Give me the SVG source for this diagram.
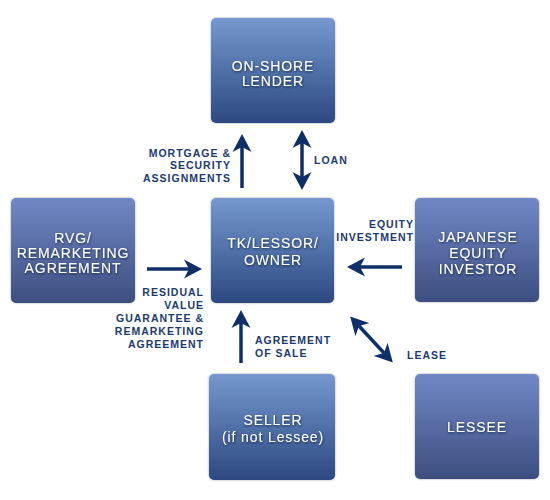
<svg xmlns="http://www.w3.org/2000/svg" width="550" height="500" viewBox="0 0 550 500">
<defs>
<linearGradient id="gBlue" x1="0" y1="0" x2="0" y2="1">
<stop offset="0" stop-color="#7598cf"/>
<stop offset="1" stop-color="#2c4981"/>
</linearGradient>
<linearGradient id="gPurple" x1="0" y1="0" x2="0" y2="1">
<stop offset="0" stop-color="#7188c6"/>
<stop offset="1" stop-color="#3d4e7f"/>
</linearGradient>
<filter id="boxShadow" x="-10%" y="-10%" width="120%" height="120%">
<feDropShadow dx="0" dy="0" stdDeviation="1.2" flood-color="#000" flood-opacity="0.35"/>
</filter>
<filter id="txtShadow" x="-10%" y="-30%" width="120%" height="160%">
<feDropShadow dx="0.5" dy="1" stdDeviation="0.8" flood-color="#0a1a3a" flood-opacity="0.9"/>
</filter>
<marker id="ah" viewBox="0 0 18 20" refX="5" refY="10" markerWidth="18" markerHeight="20" markerUnits="userSpaceOnUse" orient="auto-start-reverse">
<path d="M18,10 L0,0.5 L5,10 L0,19.5 Z" fill="#0f2f6a"/>
</marker>
<style>
.box{stroke:none;filter:url(#boxShadow)}
.bt{font-family:"Liberation Sans",Arial,sans-serif;font-size:14px;fill:#ffffff;letter-spacing:0.9px;text-anchor:middle;filter:url(#txtShadow)}
.lb{font-family:"Liberation Sans",Arial,sans-serif;font-size:10.5px;font-weight:bold;fill:#1b3a72;letter-spacing:1px}
.r{text-anchor:end}
.c{stroke:#0f2f6a;stroke-width:3.5;fill:none}
</style>
</defs>
<rect width="550" height="500" fill="#ffffff"/>

<g id="lender">
<rect class="box" x="211" y="18" width="124" height="105" rx="5" fill="url(#gBlue)"/>
<text class="bt" x="273" y="71">ON-SHORE</text>
<text class="bt" x="273" y="86">LENDER</text>
</g>

<g id="tk">
<rect class="box" x="211" y="198" width="123" height="105" rx="5" fill="url(#gBlue)"/>
<text class="bt" x="273" y="248">TK/LESSOR/</text>
<text class="bt" x="273" y="265">OWNER</text>
</g>

<g id="rvg">
<rect class="box" x="11" y="198" width="124" height="105" rx="5" fill="url(#gPurple)"/>
<text class="bt" x="73" y="243">RVG/</text>
<text class="bt" x="73" y="258">REMARKETING</text>
<text class="bt" x="73" y="273">AGREEMENT</text>
</g>

<g id="japanese">
<rect class="box" x="415" y="198" width="124" height="104" rx="5" fill="url(#gPurple)"/>
<text class="bt" x="478" y="242">JAPANESE</text>
<text class="bt" x="478" y="258">EQUITY</text>
<text class="bt" x="478" y="274">INVESTOR</text>
</g>

<g id="seller">
<rect class="box" x="209" y="374" width="126" height="106" rx="5" fill="url(#gBlue)"/>
<text class="bt" x="273" y="425">SELLER</text>
<text class="bt" x="273" y="442">(if not Lessee)</text>
</g>

<g id="lessee">
<rect class="box" x="415" y="374" width="124" height="105" rx="5" fill="url(#gPurple)"/>
<text class="bt" x="477" y="432">LESSEE</text>
</g>

<g id="connectors">
<line class="c" x1="242" y1="188" x2="242" y2="147" marker-end="url(#ah)"/>
<line class="c" x1="302" y1="143" x2="302" y2="177" marker-start="url(#ah)" marker-end="url(#ah)"/>
<line class="c" x1="147" y1="269" x2="189" y2="269" marker-end="url(#ah)"/>
<line class="c" x1="402" y1="267" x2="360" y2="267" marker-end="url(#ah)"/>
<line class="c" x1="241" y1="363" x2="241" y2="323" marker-end="url(#ah)"/>
<line class="c" x1="359" y1="326" x2="384" y2="353" marker-start="url(#ah)" marker-end="url(#ah)"/>
</g>

<g id="labels">
<text class="lb r" x="231" y="157">MORTGAGE &amp;</text>
<text class="lb r" x="231" y="169">SECURITY</text>
<text class="lb r" x="231" y="182">ASSIGNMENTS</text>
<text class="lb" x="314" y="164">LOAN</text>
<text class="lb r" x="414" y="228">EQUITY</text>
<text class="lb r" x="414" y="241">INVESTMENT</text>
<text class="lb r" x="204" y="296">RESIDUAL</text>
<text class="lb r" x="204" y="309">VALUE</text>
<text class="lb r" x="204" y="322">GUARANTEE &amp;</text>
<text class="lb r" x="204" y="335">REMARKETING</text>
<text class="lb r" x="204" y="348">AGREEMENT</text>
<text class="lb" x="255" y="344">AGREEMENT</text>
<text class="lb" x="255" y="357">OF SALE</text>
<text class="lb" x="407" y="359">LEASE</text>
</g>
</svg>
